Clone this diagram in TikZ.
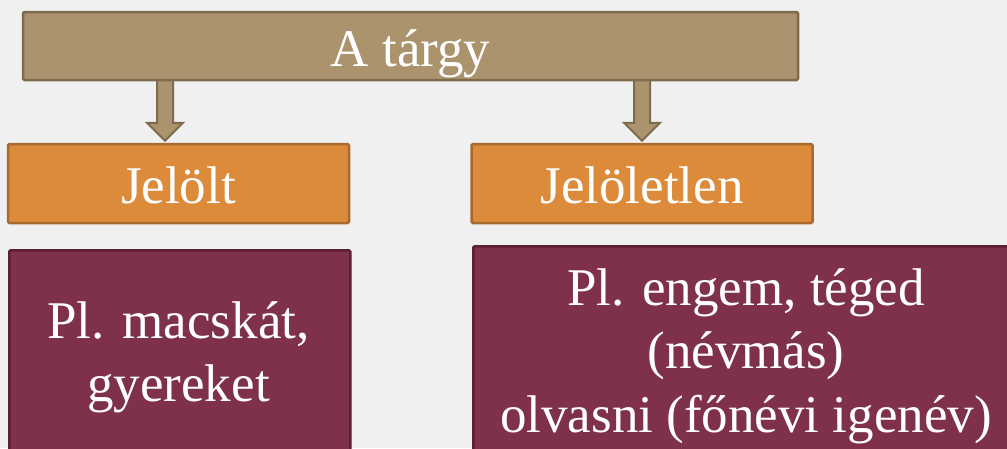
\documentclass[tikz,border=0pt]{standalone}
\usepackage{fontspec}
\setmainfont{Liberation Serif}
\usetikzlibrary{calc}
\definecolor{bgc}{HTML}{F0F0F0}
\definecolor{tanfill}{HTML}{AA936D}
\definecolor{tandraw}{HTML}{7E6B4E}
\definecolor{orfill}{HTML}{DC8B3B}
\definecolor{ordraw}{HTML}{A86A2E}
\definecolor{marfill}{HTML}{7F3149}
\definecolor{mardraw}{HTML}{5C2033}
\tikzset{
  bigfont/.style={font=\fontsize{53}{63.5}\selectfont},
  boxbase/.style={draw, line width=2.5pt, rounded corners=1.5pt, inner sep=0pt,
    text=white, bigfont, text height=41pt, text depth=1pt},
  topbox/.style={boxbase, fill=tanfill, draw=tandraw, minimum width=775pt, minimum height=68pt},
  orbox/.style={boxbase, fill=orfill, draw=ordraw, minimum width=341pt, minimum height=79pt},
  marbox/.style={boxbase, fill=marfill, draw=mardraw, minimum height=260pt, anchor=north west},
  txt/.style={text=white, align=center, bigfont, inner sep=0pt, anchor=base},
  blockarrow/.style={fill=tanfill, draw=tandraw, line width=2pt, line join=miter}
}
\begin{document}
\begin{tikzpicture}[x=1pt,y=-1pt]
\useasboundingbox (0,0) rectangle (1007,448);
\fill[bgc] (0,0) rectangle (1007,448);
\clip (0,0) rectangle (1007,448);

% boxes (top box drawn after the arrows)
\node[orbox] (jel) at (178.5,183.5) {Jelölt};
\node[orbox] (jeln) at (642,183.5) {Jelöletlen};
\node[marbox, minimum width=341pt] (ex1) at (8,249) {};
\node[marbox, minimum width=548pt] (ex2) at (472,245) {};
% base anchor of a multi-line node = baseline of its last line
\node[txt] (t1) at (178.5,401.5) {Pl. macskát,\\gyereket};
\node[txt] (t2) at (746,432) {Pl. engem, téged\\(névmás)\\olvasni (főnévi igenév)};

% block arrows
\coordinate (a1s) at (165,60);
\coordinate (a1e) at ($(165,0 |- jel.north)+(0,-2)$);
\coordinate (a2s) at (642,60);
\coordinate (a2e) at ($(642,0 |- jeln.north)+(0,-2)$);
\foreach \s/\e in {a1s/a1e, a2s/a2e}{
  \draw[blockarrow] ($(\s)+(-8,0)$) -- ($(\e)+(-8,-18)$) -- ($(\e)+(-18,-18)$)
    -- (\e) -- ($(\e)+(18,-18)$) -- ($(\e)+(8,-18)$) -- ($(\s)+(8,0)$) -- cycle;
}

\node[topbox] (top) at (410.5,46) {A tárgy};
\end{tikzpicture}
\end{document}
